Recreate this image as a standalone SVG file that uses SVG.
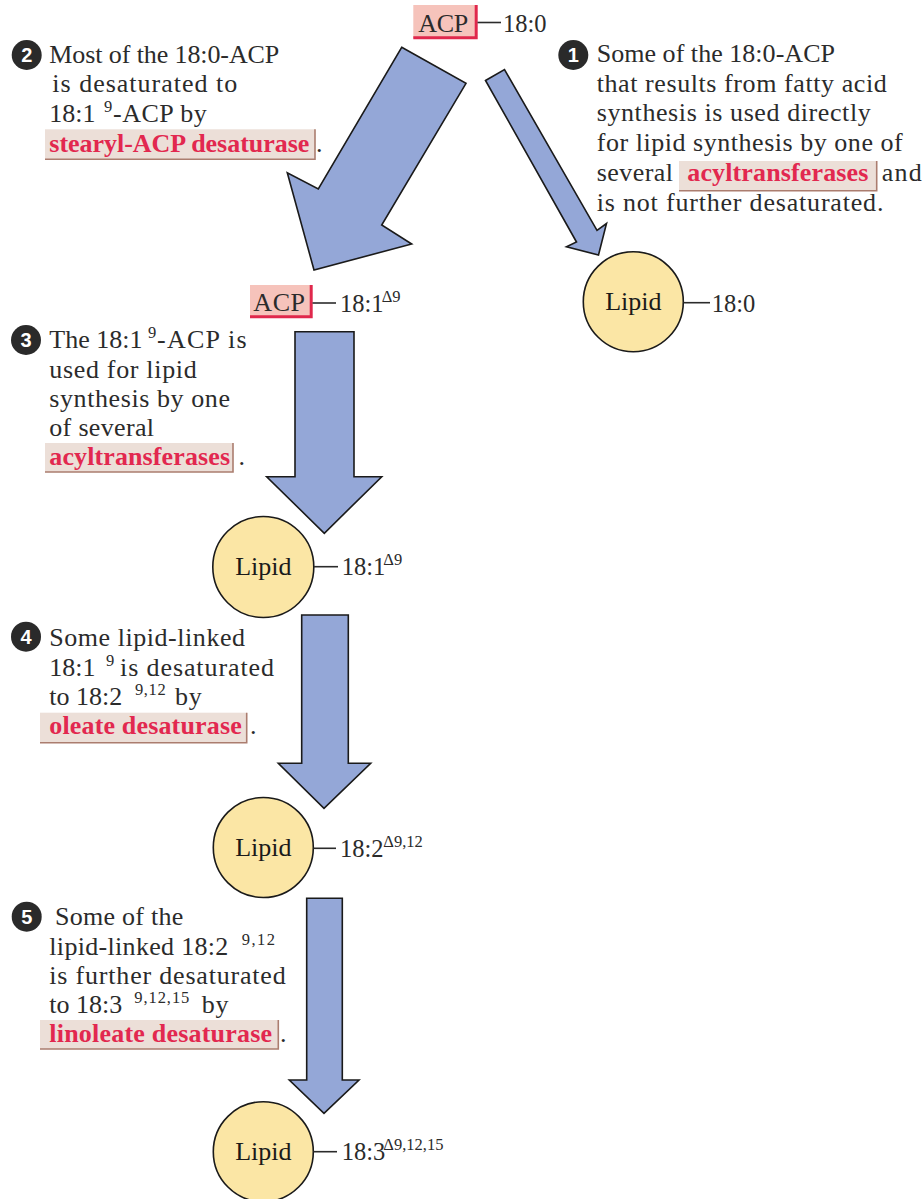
<svg xmlns="http://www.w3.org/2000/svg" width="924" height="1199" viewBox="0 0 924 1199">
<style>
.t{font-family:"Liberation Serif","Times New Roman",serif;font-size:26px;fill:#2b2b2b}
.l{font-family:"Liberation Serif","Times New Roman",serif;font-size:24.5px;fill:#2b2b2b}
.s{font-family:"Liberation Serif","Times New Roman",serif;font-size:16.5px;fill:#2b2b2b}
.b{font-family:"Liberation Serif","Times New Roman",serif;font-size:26px;font-weight:bold;fill:#e2284f}
.n{font-family:"Liberation Serif","Times New Roman",serif;font-size:26px;fill:#1a1a1a;text-anchor:middle}
.arrow{fill:#94a7d7;stroke:#1a1a1a;stroke-width:1.6;stroke-linejoin:miter}
.lipid{fill:#fbe6a5;stroke:#1a1a1a;stroke-width:1.6}
.acp{fill:#f6c3bb}
.acpb{fill:none;stroke:#e0284c;stroke-width:3}
.hl{fill:#ecdfd8}
.hlb{fill:none;stroke:#ab7d6f;stroke-width:1.6}
.badge{fill:#2a2a2a}
.bn{font-family:"Liberation Sans",Arial,sans-serif;font-weight:bold;font-size:20px;fill:#ffffff;text-anchor:middle}
.bond{stroke:#2b2b2b;stroke-width:1.6}
</style>
<rect width="924" height="1199" fill="#ffffff"/>

<g id="connectors">
  <polygon class="arrow" points="401.7,47.3 466,83.3 381.7,225 411.7,244 314,270 287.3,172.7 318.3,189"/>
  <polygon class="arrow" points="485.5,80.5 504.5,69.5 597,230.4 606.5,223.5 598.5,255 566.5,246.7 576.5,242"/>
  <polygon class="arrow" points="295,331.7 354,331.7 354,476.7 381.7,476.7 324.3,533.3 266.7,476.7 295,476.7"/>
  <polygon class="arrow" points="301.7,615 348.3,615 348.3,763.3 370.7,763.3 324,808.3 278.3,763.3 301.7,763.3"/>
  <polygon class="arrow" points="306.7,898.3 342.3,898.3 342.3,1080 359,1080 324,1113.3 289.3,1080 306.7,1080"/>
</g>

<g id="acp-180">
  <rect class="acp" x="413.3" y="5" width="63.4" height="33.3"/>
  <polyline class="acpb" points="476.2,5 476.2,37.8 413.3,37.8"/>
  <text class="t" x="418.3" y="31.5" textLength="50">ACP</text>
  <line class="bond" x1="477.5" y1="22.5" x2="501" y2="22.5"/>
  <text class="l" x="503" y="31.7">18:0</text>
</g>

<g id="acp-181">
  <rect class="acp" x="250" y="285" width="61.7" height="32.3"/>
  <polyline class="acpb" points="311.2,285 311.2,316.8 250,316.8"/>
  <text class="t" x="253.3" y="311" textLength="51.7">ACP</text>
  <line class="bond" x1="312.5" y1="303" x2="336" y2="303"/>
  <text class="l" x="340" y="312">18:1</text>
  <text class="s" x="381.7" y="302">Δ9</text>
</g>

<g id="lipid-180">
  <circle class="lipid" cx="633.3" cy="301.7" r="50"/>
  <text class="n" x="633.3" y="309.5">Lipid</text>
  <line class="bond" x1="683.3" y1="302.7" x2="710" y2="302.7"/>
  <text class="l" x="711.7" y="311.7">18:0</text>
</g>

<g id="lipid-181">
  <circle class="lipid" cx="263.3" cy="567" r="50.5"/>
  <text class="n" x="263.3" y="575">Lipid</text>
  <line class="bond" x1="314" y1="566.7" x2="338" y2="566.7"/>
  <text class="l" x="341.7" y="575">18:1</text>
  <text class="s" x="383.3" y="565">Δ9</text>
</g>

<g id="lipid-182">
  <circle class="lipid" cx="263.3" cy="847.5" r="50"/>
  <text class="n" x="263.3" y="855.5">Lipid</text>
  <line class="bond" x1="313.3" y1="848.3" x2="336" y2="848.3"/>
  <text class="l" x="340" y="857">18:2</text>
  <text class="s" x="383.3" y="847">Δ9,12</text>
</g>

<g id="lipid-183">
  <circle class="lipid" cx="263.3" cy="1151.7" r="50"/>
  <text class="n" x="263.3" y="1159.7">Lipid</text>
  <line class="bond" x1="313.3" y1="1151.7" x2="337" y2="1151.7"/>
  <text class="l" x="341.7" y="1160">18:3</text>
  <text class="s" x="383.3" y="1150">Δ9,12,15</text>
</g>

<g id="step1">
  <circle class="badge" cx="573.3" cy="55" r="15"/>
  <text class="bn" x="573.3" y="62">1</text>
  <text class="t" x="596.7" y="62" textLength="238.3">Some of the 18:0-ACP</text>
  <text class="t" x="596.7" y="91.7" textLength="290">that results from fatty acid</text>
  <text class="t" x="596.7" y="121.3" textLength="274">synthesis is used directly</text>
  <text class="t" x="596.7" y="151" textLength="306">for lipid synthesis by one of</text>
  <text class="t" x="596.7" y="181" textLength="76.3">several</text>
  <rect class="hl" x="679" y="161" width="197.7" height="29.7"/>
  <polyline class="hlb" points="876.7,161 876.7,190.7 679,190.7"/>
  <text class="b" x="687.3" y="181" textLength="181">acyltransferases</text>
  <text class="t" x="881.7" y="181" textLength="40">and</text>
  <text class="t" x="596.7" y="210.7" textLength="286.7">is not further desaturated.</text>
</g>

<g id="step2">
  <circle class="badge" cx="26.7" cy="55" r="15"/>
  <text class="bn" x="26.7" y="62">2</text>
  <text class="t" x="49.3" y="62.5" textLength="230">Most of the 18:0-ACP</text>
  <text class="t" x="52.3" y="92" textLength="185">is desaturated to</text>
  <text class="t" x="49.3" y="121.5">18:1</text>
  <text class="s" x="104" y="111.5">9</text>
  <text class="t" x="113" y="121.5" textLength="93.7">-ACP by</text>
  <rect class="hl" x="45" y="129.3" width="270" height="30"/>
  <polyline class="hlb" points="315,129.3 315,159.3 45,159.3"/>
  <text class="b" x="49.3" y="151.5" textLength="260">stearyl-ACP desaturase</text>
  <text class="t" x="316" y="151.5">.</text>
</g>

<g id="step3">
  <circle class="badge" cx="26" cy="340" r="15"/>
  <text class="bn" x="26" y="347">3</text>
  <text class="t" x="49.3" y="348.3">The 18:1</text>
  <text class="s" x="148" y="338">9</text>
  <text class="t" x="157" y="348.3" textLength="89.7">-ACP is</text>
  <text class="t" x="49.3" y="378" textLength="147.4">used for lipid</text>
  <text class="t" x="49.3" y="407" textLength="180.7">synthesis by one</text>
  <text class="t" x="49.3" y="436" textLength="104.7">of several</text>
  <rect class="hl" x="45" y="443" width="188" height="29"/>
  <polyline class="hlb" points="233,443 233,472 45,472"/>
  <text class="b" x="49.3" y="465" textLength="180.7">acyltransferases</text>
  <text class="t" x="238.5" y="465">.</text>
</g>

<g id="step4">
  <circle class="badge" cx="26" cy="636.7" r="15"/>
  <text class="bn" x="26" y="643.7">4</text>
  <text class="t" x="49.3" y="646" textLength="195.7">Some lipid-linked</text>
  <text class="t" x="49.3" y="675.5">18:1</text>
  <text class="s" x="106" y="665.5">9</text>
  <text class="t" x="120" y="675.5" textLength="154">is desaturated</text>
  <text class="t" x="49.3" y="705">to 18:2</text>
  <text class="s" x="135" y="695" textLength="30.7">9,12</text>
  <text class="t" x="175" y="705" textLength="26.7">by</text>
  <rect class="hl" x="40" y="712.7" width="206.7" height="30"/>
  <polyline class="hlb" points="246.7,712.7 246.7,742.7 40,742.7"/>
  <text class="b" x="49.3" y="734" textLength="192.4">oleate desaturase</text>
  <text class="t" x="250" y="734">.</text>
</g>

<g id="step5">
  <circle class="badge" cx="26.7" cy="916.7" r="15"/>
  <text class="bn" x="26.7" y="923.7">5</text>
  <text class="t" x="55" y="925" textLength="128.3">Some of the</text>
  <text class="t" x="49.3" y="954.5" textLength="179">lipid-linked 18:2</text>
  <text class="s" x="241.7" y="944.5" textLength="33.3">9,12</text>
  <text class="t" x="49.3" y="983.5" textLength="236.4">is further desaturated</text>
  <text class="t" x="49.3" y="1012.5">to 18:3</text>
  <text class="s" x="134.3" y="1002.5" textLength="55">9,12,15</text>
  <text class="t" x="201.7" y="1012.5" textLength="26.7">by</text>
  <rect class="hl" x="40" y="1020" width="238.3" height="29"/>
  <polyline class="hlb" points="278.3,1020 278.3,1049 40,1049"/>
  <text class="b" x="49.3" y="1041.5" textLength="222.7">linoleate desaturase</text>
  <text class="t" x="280" y="1041.5">.</text>
</g>
</svg>
